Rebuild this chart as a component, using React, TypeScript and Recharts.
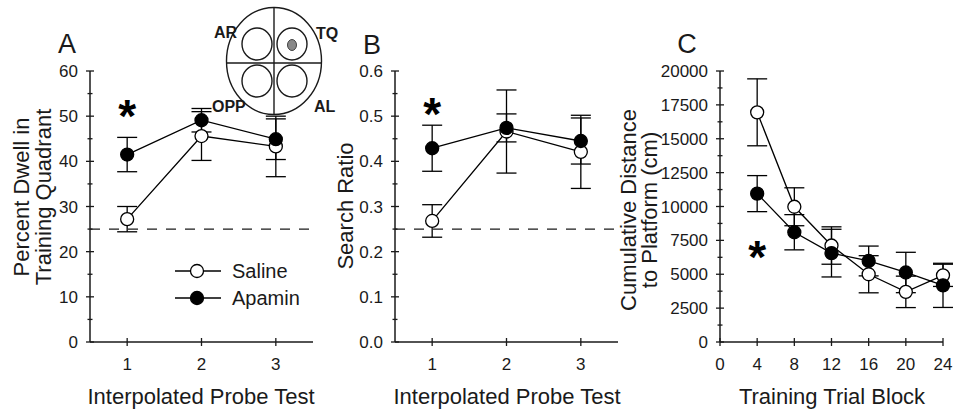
import React from "react";
import { LineChart, Line, XAxis, YAxis, ErrorBar, ReferenceLine, ReferenceDot } from "recharts";

// Panel A / B: interpolated probe tests
const probeTests = [1, 2, 3];
const dwellSaline = [27.2, 45.6, 43.3];
const dwellSalineErr = [2.8, 5.4, 6.7];
const dwellApamin = [41.5, 49.1, 44.9];
const dwellApaminErr = [3.8, 2.6, 4.5];

const ratioSaline = [0.268, 0.466, 0.421];
const ratioSalineErr = [0.036, 0.092, 0.081];
const ratioApamin = [0.429, 0.474, 0.445];
const ratioApaminErr = [0.051, 0.031, 0.051];

// Panel C: acquisition
const trainingBlocks = [4, 8, 12, 16, 20, 24];
const distSaline = [16950, 9980, 7120, 5000, 3700, 4920];
const distSalineErr = [2470, 1400, 1380, 1370, 1160, 820];
const distApamin = [10950, 8100, 6560, 5980, 5130, 4180];
const distApaminErr = [1330, 1300, 1760, 1100, 1490, 1630];

// ticks (even index = labelled major tick)
const dwellTicks = [0, 5, 10, 15, 20, 25, 30, 35, 40, 45, 50, 55, 60];
const ratioTicks = [0, 0.05, 0.1, 0.15, 0.2, 0.25, 0.3, 0.35, 0.4, 0.45, 0.5, 0.55, 0.6];
const distTicks = [0, 1250, 2500, 3750, 5000, 6250, 7500, 8750, 10000, 11250, 12500, 13750, 15000, 16250, 17500, 18750, 20000];
const blockTicks = [0, 4, 8, 12, 16, 20, 24];

const FONT = "'Liberation Sans', Arial, Helvetica, sans-serif";
const INK = "#1a1a1a";

const build = (xs: number[], s: number[], se: number[], a: number[], ae: number[]) =>
  xs.map((x, i) => ({ x, saline: s[i], salineErr: se[i], apamin: a[i], apaminErr: ae[i] }));

const dwellData = build(probeTests, dwellSaline, dwellSalineErr, dwellApamin, dwellApaminErr);
const ratioData = build(probeTests, ratioSaline, ratioSalineErr, ratioApamin, ratioApaminErr);
const distData = build(trainingBlocks, distSaline, distSalineErr, distApamin, distApaminErr);

function YTick(props: any) {
  const { x, y, payload, index, fmt } = props;
  const major = index % 2 === 0;
  return (
    <g>
      <line x1={x - (major ? 4 : 2.5)} x2={x + (major ? 4 : 2.5)} y1={y} y2={y} stroke={INK} strokeWidth={1.3} />
      {major && (
        <text x={x - 12} y={y} dy="0.36em" textAnchor="end" fontSize={17} fontFamily={FONT} fill={INK}>
          {fmt(payload.value)}
        </text>
      )}
    </g>
  );
}

function XTick(props: any) {
  const { x, y, payload } = props;
  return (
    <g>
      <line x1={x} x2={x} y1={y - 4} y2={y + 4} stroke={INK} strokeWidth={1.3} />
      <text x={x} y={y + 22} dy="0.36em" textAnchor="middle" fontSize={17} fontFamily={FONT} fill={INK}>
        {payload.value}
      </text>
    </g>
  );
}

const star = (p: any) => (
  <text x={p.cx} y={p.cy + 26} textAnchor="middle" fontSize={46} fontWeight="bold" fontFamily={FONT} fill="#000">
    *
  </text>
);

type PanelProps = {
  data: any[];
  width: number;
  left: number;
  mLeft: number;
  mRight: number;
  xDomain: number[];
  xTicks: number[];
  yDomain: number[];
  yTicks: number[];
  fmt: (v: number) => string;
  chance?: number;
  starAt: number[];
};

function Panel({ data, width, left, mLeft, mRight, xDomain, xTicks, yDomain, yTicks, fmt, chance, starAt }: PanelProps) {
  return (
    <div style={{ position: "absolute", left, top: 0 }}>
      <LineChart width={width} height={411} data={data} margin={{ top: 71, bottom: 39, left: mLeft, right: mRight }}>
        <XAxis
          type="number"
          dataKey="x"
          domain={xDomain}
          ticks={xTicks}
          interval={0}
          tickSize={0}
          tickMargin={0}
          tickLine={false}
          tick={(p: any) => <XTick {...p} />}
          axisLine={{ stroke: INK, strokeWidth: 1.5 }}
          height={30}
        />
        <YAxis
          type="number"
          domain={yDomain}
          ticks={yTicks}
          interval={0}
          tickSize={0}
          tickMargin={0}
          tickLine={false}
          tick={(p: any) => <YTick {...p} fmt={fmt} />}
          axisLine={{ stroke: INK, strokeWidth: 1.5 }}
          width={30}
        />
        {chance !== undefined && (
          <ReferenceLine y={chance} stroke={INK} strokeWidth={1.2} strokeDasharray="10 9" />
        )}
        <ReferenceDot x={starAt[0]} y={starAt[1]} r={0} shape={star} />
        <Line
          dataKey="saline"
          stroke="#000"
          strokeWidth={1.3}
          isAnimationActive={false}
          dot={{ r: 6.5, fill: "#fff", stroke: "#000", strokeWidth: 1.3 }}
        >
          <ErrorBar dataKey="salineErr" width={10} stroke="#000" strokeWidth={1.3} direction="y" />
        </Line>
        <Line
          dataKey="apamin"
          stroke="#000"
          strokeWidth={1.3}
          isAnimationActive={false}
          dot={{ r: 6.5, fill: "#000", stroke: "#000", strokeWidth: 1.3 }}
        >
          <ErrorBar dataKey="apaminErr" width={10} stroke="#000" strokeWidth={1.3} direction="y" />
        </Line>
      </LineChart>
    </div>
  );
}

function Overlay() {
  const t = { fontFamily: FONT, fill: INK } as const;
  return (
    <svg width={953} height={411} style={{ position: "absolute", left: 0, top: 0, pointerEvents: "none" }}>
      {/* panel letters */}
      <text x={67} y={53} textAnchor="middle" fontSize={27} {...t}>A</text>
      <text x={372} y={54} textAnchor="middle" fontSize={27} {...t}>B</text>
      <text x={687} y={53} textAnchor="middle" fontSize={27} {...t}>C</text>

      {/* axis titles */}
      <g fontSize={22} {...t} textAnchor="middle">
        <text transform="translate(29,197) rotate(-90)">Percent Dwell in</text>
        <text transform="translate(51,197) rotate(-90)">Training Quadrant</text>
        <text transform="translate(353,206) rotate(-90)">Search Ratio</text>
        <text transform="translate(636,210) rotate(-90)">Cumulative Distance</text>
        <text transform="translate(657,210) rotate(-90)">to Platform (cm)</text>
        <text x={201} y={404}>Interpolated Probe Test</text>
        <text x={507} y={404}>Interpolated Probe Test</text>
        <text x={832} y={404}>Training Trial Block</text>
      </g>

      {/* legend */}
      <line x1={175} x2={221} y1={271} y2={271} stroke="#000" strokeWidth={1.3} />
      <circle cx={197} cy={271} r={6.5} fill="#fff" stroke="#000" strokeWidth={1.3} />
      <text x={232} y={278} fontSize={20} {...t}>Saline</text>
      <line x1={175} x2={221} y1={298} y2={298} stroke="#000" strokeWidth={1.3} />
      <circle cx={197} cy={298} r={6.5} fill="#000" stroke="#000" strokeWidth={1.3} />
      <text x={232} y={305} fontSize={20} {...t}>Apamin</text>

      {/* water maze quadrant inset */}
      <g stroke={INK} strokeWidth={1.4} fill="none">
        <ellipse cx={274} cy={61} rx={47.5} ry={53.5} />
        <line x1={274} x2={274} y1={7.5} y2={114.5} />
        <line x1={226.5} x2={321.5} y1={63} y2={63} />
        <ellipse cx={257} cy={44} rx={15} ry={16} />
        <ellipse cx={292} cy={44} rx={15} ry={16} />
        <ellipse cx={257} cy={81} rx={15} ry={16} />
        <ellipse cx={292} cy={81} rx={15} ry={16} />
      </g>
      <ellipse cx={292} cy={45} rx={4.5} ry={5.5} fill="#888" stroke="#444" strokeWidth={1} />
      <g fontSize={16} fontWeight="bold" {...t}>
        <text x={214} y={38}>AR</text>
        <text x={316} y={39}>TQ</text>
        <text x={212} y={112}>OPP</text>
        <text x={314} y={112}>AL</text>
      </g>
    </svg>
  );
}

export default function App() {
  return (
    <div style={{ position: "absolute", left: 0, top: 0, width: 953, height: 411, background: "#fff", fontFamily: FONT }}>
      <Panel
        data={dwellData}
        width={320}
        left={0}
        mLeft={60}
        mRight={7}
        xDomain={[0.5, 3.5]}
        xTicks={probeTests}
        yDomain={[0, 60]}
        yTicks={dwellTicks}
        fmt={(v) => String(v)}
        chance={25}
        starAt={[1, 52.2]}
      />
      <Panel
        data={ratioData}
        width={310}
        left={320}
        mLeft={45}
        mRight={12}
        xDomain={[0.5, 3.5]}
        xTicks={probeTests}
        yDomain={[0, 0.6]}
        yTicks={ratioTicks}
        fmt={(v) => v.toFixed(1)}
        chance={0.25}
        starAt={[1, 0.527]}
      />
      <Panel
        data={distData}
        width={323}
        left={630}
        mLeft={60}
        mRight={10}
        xDomain={[0, 24]}
        xTicks={blockTicks}
        yDomain={[0, 20000]}
        yTicks={distTicks}
        fmt={(v) => String(v)}
        starAt={[4, 7040]}
      />
      <Overlay />
    </div>
  );
}
